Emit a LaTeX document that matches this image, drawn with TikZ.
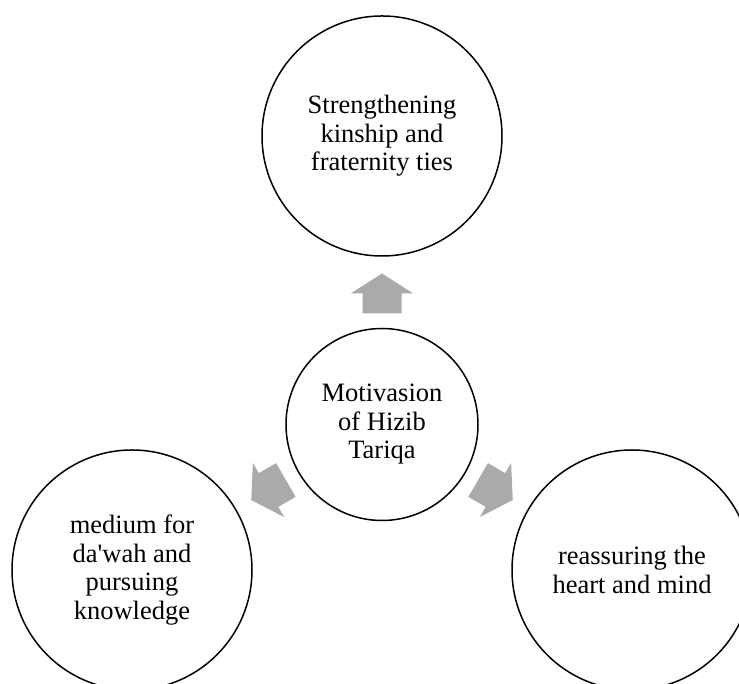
\documentclass[tikz,border=0pt]{standalone}
\usepackage{fontspec}
\setmainfont{Liberation Serif}
\definecolor{arrowgray}{RGB}{170,170,170}
\begin{document}
\begin{tikzpicture}[x=1pt,y=1pt,
  bubble/.style={draw=black,line width=1.5pt,circle,inner sep=0pt,align=center,
    font=\fontsize{26.5}{28.5}\selectfont},
  bigbubble/.style={bubble,minimum size=240pt},
  hubbubble/.style={bubble,minimum size=192pt},
  blockarrow/.style={fill=arrowgray,draw=none}]
\useasboundingbox (0,0) rectangle (739,684);
\clip (0,0) rectangle (739,684);
\node[hubbubble] (hub) at (382,259.5) {Motivasion\\of Hizib\\Tariqa};
\node[bigbubble] (top) at (382,548) {Strengthening\\kinship and\\fraternity ties};
\node[bigbubble] (left) at (132,114) {medium for\\da\textquotesingle wah and\\pursuing\\knowledge};
\node[bigbubble] (right) at (632,114) {reassuring the\\heart and mind};
\foreach \ang in {90,210,330}{
  \begin{scope}[shift={(hub.center)},rotate=\ang]
    \fill[blockarrow] (111,-19.5) -- (131,-19.5) -- (131,-31.3) -- (151,0)
      -- (131,31.3) -- (131,19.5) -- (111,19.5) -- cycle;
  \end{scope}
}
\end{tikzpicture}
\end{document}
